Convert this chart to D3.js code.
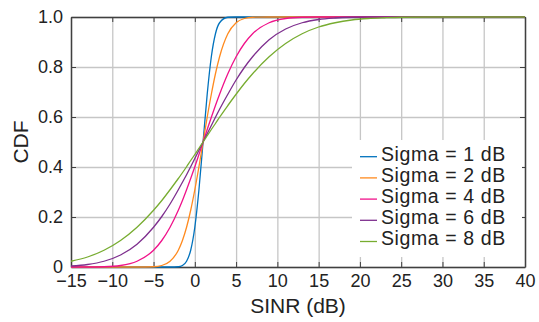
<!DOCTYPE html>
<html>
<head>
<meta charset="utf-8">
<script src="https://cdn.jsdelivr.net/npm/d3@7"></script>
<style>
  body { margin: 0; background: #fff; }
  svg text { font-family: "Liberation Sans", Arial, sans-serif; fill: #222; }
</style>
</head>
<body>
<svg width="539" height="322"></svg>
<script>
var sinr = [-15,-13,-11,-9,-7,-5,-4,-3,-2,-1.5,-1,-0.5,0,0.5,1,1.5,2,2.5,3,4,5,6,7,9,11,13,15,17,19,21,23,25,30,35,40];

// CDF values read for each sigma
var cdf1 = [0,0,0,0,0,0,0,0,0.001,0.006,0.023,0.067,0.159,0.309,0.5,0.691,0.841,0.933,0.977,0.999,1,1,1,1,1,1,1,1,1,1,1,1,1,1,1];
var cdf2 = [0,0,0,0,0,0.001,0.006,0.023,0.067,0.106,0.159,0.227,0.309,0.401,0.5,0.599,0.691,0.773,0.841,0.933,0.977,0.994,0.999,1,1,1,1,1,1,1,1,1,1,1,1];
var cdf4 = [0,0,0.001,0.006,0.023,0.067,0.106,0.159,0.227,0.266,0.309,0.354,0.401,0.45,0.5,0.55,0.599,0.646,0.691,0.773,0.841,0.894,0.933,0.977,0.994,0.999,1,1,1,1,1,1,1,1,1];
var cdf6 = [0.004,0.01,0.023,0.048,0.091,0.159,0.202,0.252,0.309,0.339,0.369,0.401,0.434,0.467,0.5,0.533,0.566,0.599,0.631,0.691,0.748,0.798,0.841,0.909,0.952,0.977,0.99,0.996,0.999,1,1,1,1,1,1];
var cdf8 = [0.023,0.04,0.067,0.106,0.159,0.227,0.266,0.309,0.354,0.377,0.401,0.426,0.45,0.475,0.5,0.525,0.55,0.574,0.599,0.646,0.691,0.734,0.773,0.841,0.894,0.933,0.96,0.977,0.988,0.994,0.997,0.999,1,1,1];

var labels = ['Sigma = 1 dB','Sigma = 2 dB','Sigma = 4 dB','Sigma = 6 dB','Sigma = 8 dB'];
var colors = ['#0072bd','#ff8a1e','#f0128a','#7e2f8e','#77ac30'];
var xTicks = [-15,-10,-5,0,5,10,15,20,25,30,35,40];
var yTicks = [0,0.2,0.4,0.6,0.8,1.0];

var series = [cdf1, cdf2, cdf4, cdf6, cdf8];

var svg = d3.select('svg');
var pLeft = 71, pRight = 525, pTop = 17, pBottom = 267;

var scaleX = d3.scaleLinear().domain([-15,40]).range([pLeft,pRight]);
var scaleY = d3.scaleLinear().domain([0,1]).range([pBottom,pTop]);

//grid lines
svg.append('g')
    .attr('transform','translate(0,' + pBottom + ')')
    .call(d3.axisBottom(scaleX).tickValues(xTicks).tickSize(-(pBottom-pTop)).tickFormat(''))
    .call(function(g){ g.select('.domain').remove(); })
    .selectAll('line').attr('stroke','#c6c6c6').attr('stroke-width',1.3);

svg.append('g')
    .attr('transform','translate(' + pLeft + ',0)')
    .call(d3.axisLeft(scaleY).tickValues(yTicks).tickSize(-(pRight-pLeft)).tickFormat(''))
    .call(function(g){ g.select('.domain').remove(); })
    .selectAll('line').attr('stroke','#c6c6c6').attr('stroke-width',1.3);

//curves
var line = d3.line()
    .x(function(d){ return scaleX(d[0]); })
    .y(function(d){ return scaleY(d[1]); })
    .curve(d3.curveMonotoneX);

//axes with inward ticks
var xAxis = svg.append('g')
    .attr('transform','translate(0,' + pBottom + ')')
    .call(d3.axisBottom(scaleX).tickValues(xTicks).tickSizeInner(-5).tickSizeOuter(0)
        .tickFormat(function(d){ return d < 0 ? '\u2212' + Math.abs(d) : d; }));
xAxis.selectAll('text').attr('font-size','18px').attr('dy','0.71em').attr('y',7.5);

var yAxis = svg.append('g')
    .attr('transform','translate(' + pLeft + ',0)')
    .call(d3.axisLeft(scaleY).tickValues(yTicks).tickSizeInner(-5).tickSizeOuter(0)
        .tickFormat(function(d){ return d == 0 ? '0' : d3.format('.1f')(d); }));
yAxis.selectAll('text').attr('font-size','18px').attr('x',-8);

svg.append('g')
    .attr('transform','translate(0,' + pTop + ')')
    .call(d3.axisTop(scaleX).tickValues(xTicks).tickSizeInner(-5).tickSizeOuter(0).tickFormat(''));
svg.append('g')
    .attr('transform','translate(' + pRight + ',0)')
    .call(d3.axisRight(scaleY).tickValues(yTicks).tickSizeInner(-5).tickSizeOuter(0).tickFormat(''));

svg.selectAll('.domain').attr('stroke','#404040').attr('stroke-width',1.5);
svg.selectAll('.tick line').filter(function(){ return d3.select(this).attr('stroke') == 'currentColor'; })
    .attr('stroke','#404040').attr('stroke-width',1);

series.forEach(function(s, i){
    svg.append('path')
        .datum(sinr.map(function(x, j){ return [x, s[j]]; }))
        .attr('d', line)
        .attr('fill','none')
        .attr('stroke', colors[i])
        .attr('stroke-width',1.3);
});

//axis labels
svg.append('text')
    .text('SINR (dB)')
    .attr('x', (pLeft+pRight)/2)
    .attr('y', 313)
    .attr('font-size','21px')
    .style('text-anchor','middle');

svg.append('text')
    .text('CDF')
    .attr('transform','translate(28,' + ((pTop+pBottom)/2) + ')rotate(-90)')
    .attr('font-size','21px')
    .style('text-anchor','middle');

//legend
var legend = svg.append('g');
legend.append('rect')
    .attr('x',352).attr('y',140).attr('width',170).attr('height',117)
    .attr('fill','#fff');

labels.forEach(function(lab, i){
    var yy = 156.7 + i*21.2;
    legend.append('line')
        .attr('x1',360).attr('x2',377).attr('y1',yy).attr('y2',yy)
        .attr('stroke',colors[i]).attr('stroke-width',1.3);
    legend.append('text')
        .text(lab)
        .attr('x',381).attr('y',yy + 3.8)
        .attr('font-size','19.5px')
        .style('letter-spacing','0.6px');
});
</script>
</body>
</html>
